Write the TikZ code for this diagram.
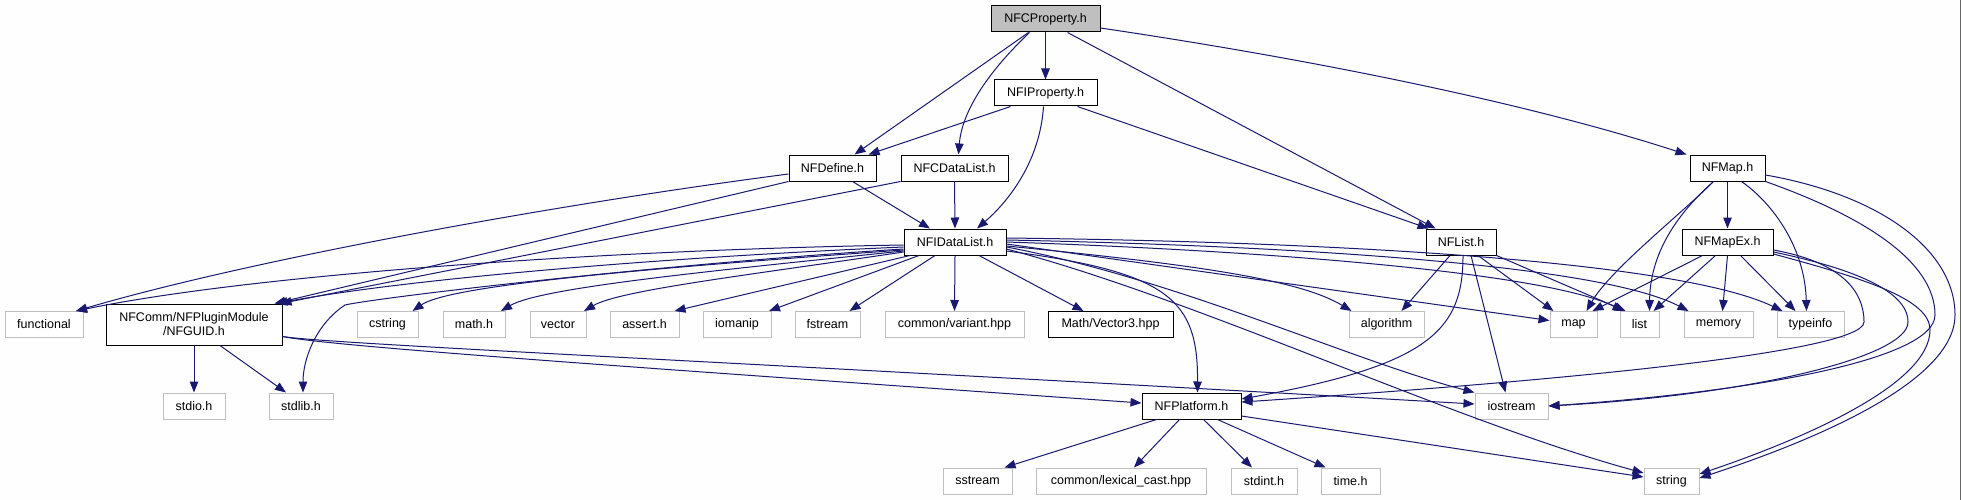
\documentclass[tikz,border=0pt]{standalone}
\usepackage{fontspec}
\setmainfont{Liberation Sans}
\usetikzlibrary{arrows.meta}
\definecolor{edgec}{HTML}{191970}
\definecolor{extc}{HTML}{BFBFBF}
\definecolor{rootc}{HTML}{BFBFBF}
\definecolor{bgc}{HTML}{FDFEFD}
\begin{document}
\begin{tikzpicture}[x=1pt,y=-1pt,
  every node/.style={font=\fontsize{12.5}{14}\selectfont, inner sep=0pt, minimum height=26pt, anchor=center},
  inc/.style={draw=black, fill=white, line width=1pt},
  ext/.style={draw=extc, fill=white, line width=1pt},
  rootn/.style={draw=black, fill=rootc, line width=1pt},
  dep/.style={draw=edgec, line width=1pt, -{Triangle[length=11pt,width=8.5pt]}},
]
\fill[bgc] (0,0) rectangle (1961,500);
\useasboundingbox (0,0) rectangle (1961,500);
\draw[black!60, line width=1pt] (1960.5,0) -- (1960.5,500);

% nodes
\node[rootn, minimum width=109pt] (root) at (1045.5,19) {NFCProperty.h};
\node[inc, minimum width=103pt] (iprop) at (1045.5,93) {NFIProperty.h};
\node[inc, minimum width=87pt] (def) at (832.5,168) {NFDefine.h};
\node[inc, minimum width=107pt] (cdl) at (954.5,168) {NFCDataList.h};
\node[inc, minimum width=102pt] (idl) at (955,242) {NFIDataList.h};
\node[inc, minimum width=70pt] (nflist) at (1461,242) {NFList.h};
\node[inc, minimum width=75pt] (nfmap) at (1727.5,168) {NFMap.h};
\node[inc, minimum width=91pt] (mapex) at (1727.5,242) {NFMapEx.h};

\node[ext, minimum width=78pt] (func) at (44,324.5) {functional};
\node[inc, minimum width=176pt, minimum height=41pt, align=center] (guid) at (194,324.5) {NFComm/NFPluginModule\\/NFGUID.h};
\node[ext, minimum width=61pt] (cstr) at (387.5,324.5) {cstring};
\node[ext, minimum width=62pt] (mathh) at (474,324.5) {math.h};
\node[ext, minimum width=56pt] (vec) at (558,324.5) {vector};
\node[ext, minimum width=69pt] (asrt) at (644.5,324.5) {assert.h};
\node[ext, minimum width=68pt] (ioman) at (737,324.5) {iomanip};
\node[ext, minimum width=65pt] (fstr) at (827.5,324.5) {fstream};
\node[ext, minimum width=139pt] (variant) at (954.5,324.5) {common/variant.hpp};
\node[inc, minimum width=125pt] (vec3) at (1110.5,324.5) {Math/Vector3.hpp};
\node[ext, minimum width=75pt] (algo) at (1386.5,324.5) {algorithm};
\node[ext, minimum width=47pt] (map) at (1573.5,324.5) {map};
\node[ext, minimum width=39pt] (lst) at (1639.5,324.5) {list};
\node[ext, minimum width=69pt] (mem) at (1718.5,324.5) {memory};
\node[ext, minimum width=67pt] (tinfo) at (1810.5,324.5) {typeinfo};

\node[ext, minimum width=62pt] (stdio) at (194,406) {stdio.h};
\node[ext, minimum width=64pt] (stdlib) at (301,406) {stdlib.h};
\node[inc, minimum width=99pt] (plat) at (1191.5,406) {NFPlatform.h};
\node[ext, minimum width=73pt] (iostr) at (1511.5,406) {iostream};

\node[ext, minimum width=69pt] (sstr) at (977.5,481) {sstream};
\node[ext, minimum width=170pt] (lex) at (1121,481) {common/lexical\_cast.hpp};
\node[ext, minimum width=66pt] (stdint) at (1264,481) {stdint.h};
\node[ext, minimum width=59pt] (timeh) at (1350.5,481) {time.h};
\node[ext, minimum width=55pt] (str) at (1671.5,481) {string};

% NFCProperty.h
\draw[dep] ([xshift=-17pt]root.south) -- ([xshift=22pt]def.north);
\draw[dep] ([xshift=-16pt]root.south) .. controls (990,70) and (962,110) .. ([xshift=4pt]cdl.north);
\draw[dep] (root) -- (iprop);
\draw[dep] ([xshift=22pt]root.south) -- ([xshift=10pt]nflist.north west);
\draw[dep] ([yshift=-9pt]root.east) .. controls (1350,65) and (1550,110) .. ([xshift=-3pt]nfmap.north west);

% NFIProperty.h
\draw[dep] ([xshift=-35pt]iprop.south) -- ([xshift=36pt]def.north);
\draw[dep] ([xshift=-2pt]iprop.south) .. controls (1040,160) and (1010,200) .. ([xshift=22pt]idl.north);
\draw[dep] ([xshift=32pt]iprop.south) -- ([xshift=3pt]nflist.north west);

% NFDefine.h
\draw[dep] ([yshift=-6pt]def.west) .. controls (550,205) and (250,260) .. ([xshift=32pt]func.north);
\draw[dep] (def.south west) -- ([xshift=-8pt]guid.north east);
\draw[dep] ([xshift=20pt]def.south) -- ([xshift=-25pt]idl.north);

% NFCDataList.h
\draw[dep] (cdl.south) -- (idl.north);
\draw[dep] (cdl.south west) -- ([xshift=-2pt]guid.north east);

% NFIDataList.h
\draw[dep] ([yshift=-3pt]idl.west) .. controls (600,250) and (250,275) .. ([xshift=32pt]func.north);
\draw[dep] ([yshift=-5pt]idl.west) .. controls (650,258) and (400,280) .. ([xshift=-6pt]guid.north east);
\draw[dep] ([yshift=-7pt]idl.west) .. controls (650,265) and (375,298) .. (345,305) .. controls (315,325) and (303,360) .. ([xshift=2pt]stdlib.north);
\draw[dep] ([yshift=-8pt]idl.west) .. controls (650,268) and (450,285) .. ([xshift=25pt]cstr.north);
\draw[dep] ([yshift=-9pt]idl.west) .. controls (700,272) and (540,288) .. ([xshift=27pt]mathh.north);
\draw[dep] ([yshift=-10pt]idl.west) .. controls (750,275) and (620,290) .. ([xshift=26pt]vec.north);
\draw[dep] ([xshift=-45pt]idl.south) -- ([xshift=30pt]asrt.north);
\draw[dep] ([xshift=-36pt]idl.south) -- ([xshift=32pt]ioman.north);
\draw[dep] ([xshift=-20pt]idl.south) -- ([xshift=22pt]fstr.north);
\draw[dep] (idl.south) -- (variant.north);
\draw[dep] ([xshift=24pt]idl.south) -- ([xshift=-27pt]vec3.north);
\draw[dep] ([yshift=-9pt]idl.east) .. controls (1170,272) and (1198,300) .. ([xshift=6pt]plat.north);
\draw[dep] ([yshift=-7pt]idl.east) .. controls (1200,300) and (1450,420) .. ([yshift=8pt]str.west);
\draw[dep] ([yshift=-5pt]idl.east) .. controls (1180,280) and (1350,360) .. (iostr.north west);
\draw[dep] ([yshift=-4pt]idl.east) .. controls (1200,265) and (1300,280) .. ([xshift=3pt]algo.north west);
\draw[dep] ([yshift=-2pt]idl.east) -- ([yshift=4pt]map.west);
\draw[dep] (idl.east) .. controls (1300,252) and (1550,275) .. ([xshift=-16pt]lst.north);
\draw[dep] ([yshift=2pt]idl.east) .. controls (1300,246) and (1600,265) .. ([xshift=-30pt]mem.north);
\draw[dep] ([yshift=4pt]idl.east) .. controls (1350,242) and (1680,262) .. ([xshift=-28pt]tinfo.north);

% NFGUID.h
\draw[dep] (guid) -- (stdio);
\draw[dep] ([xshift=26pt]guid.south) -- ([xshift=-15pt]stdlib.north);
\draw[dep] ([yshift=-12pt]guid.east) .. controls (330,346) and (600,365) .. ([yshift=3pt]plat.west);
\draw[dep] ([yshift=-12pt]guid.east) .. controls (330,344) and (700,360) .. ([yshift=2pt]iostr.west);

% NFPlatform.h
\draw[dep] ([xshift=-35pt]plat.south) -- ([xshift=-8pt]sstr.north east);
\draw[dep] ([xshift=-12pt]plat.south) -- ([xshift=13pt]lex.north);
\draw[dep] ([xshift=12pt]plat.south) -- ([xshift=-12pt]stdint.north);
\draw[dep] ([xshift=26pt]plat.south) -- ([xshift=-25pt]timeh.north);
\draw[dep] ([yshift=-10pt]plat.east) -- ([yshift=4pt]str.west);

% NFList.h
\draw[dep] ([xshift=-11pt]nflist.south) -- ([xshift=15pt]algo.north);
\draw[dep] ([xshift=17pt]nflist.south) -- ([xshift=-20pt]map.north);
\draw[dep] (nflist.south east) -- ([xshift=-14pt]lst.north);
\draw[dep] ([xshift=10pt]nflist.south) -- ([xshift=-6pt]iostr.north);
\draw[dep] ([xshift=2pt]nflist.south) .. controls (1463,330) and (1430,365) .. ([yshift=7pt]plat.east);

% NFMap.h
\draw[dep] (nfmap) -- (mapex);
\draw[dep] ([xshift=-14pt]nfmap.south) .. controls (1680,215) and (1610,270) .. ([xshift=13pt]map.north);
\draw[dep] ([xshift=-14pt]nfmap.south) .. controls (1670,220) and (1650,260) .. ([xshift=10pt]lst.north);
\draw[dep] ([xshift=14pt]nfmap.south) .. controls (1775,205) and (1805,250) .. ([xshift=-4pt]tinfo.north);
\draw[dep] (nfmap.south east) .. controls (1860,215) and (1935,260) .. (1935,315) .. controls (1935,360) and (1750,392) .. (iostr.east);
\draw[dep] ([yshift=-7pt]nfmap.east) .. controls (1880,195) and (1955,250) .. (1955,315) .. controls (1955,385) and (1800,445) .. ([yshift=3pt]str.east);

% NFMapEx.h
\draw[dep] ([xshift=-25pt]mapex.south) -- ([xshift=19pt]map.north);
\draw[dep] ([xshift=-12pt]mapex.south) -- ([xshift=14pt]lst.north);
\draw[dep] (mapex.south) -- ([xshift=4pt]mem.north);
\draw[dep] ([xshift=13pt]mapex.south) -- ([xshift=-15pt]tinfo.north);
\draw[dep] ([yshift=-8pt]mapex.east) .. controls (1840,262) and (1864,290) .. (1864,322) .. controls (1864,355) and (1500,385) .. ([yshift=4pt]plat.east);
\draw[dep] ([yshift=-10pt]mapex.east) .. controls (1850,268) and (1908,290) .. (1908,322) .. controls (1908,357) and (1750,395) .. (iostr.east);
\draw[dep] ([yshift=-12pt]mapex.east) .. controls (1870,280) and (1930,300) .. (1930,330) .. controls (1930,385) and (1800,440) .. ([yshift=7pt]str.east);
\end{tikzpicture}
\end{document}
